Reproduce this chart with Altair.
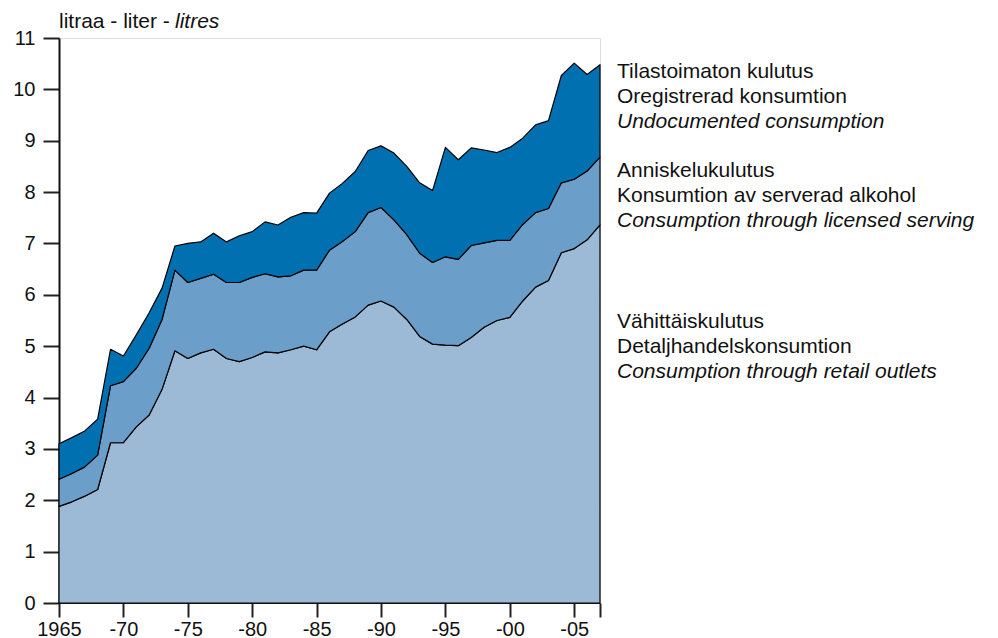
import altair as alt
import pandas as pd

years = list(range(1965, 2008))

# Consumption through retail outlets (litres per capita)
retail = [1.88, 1.97, 2.08, 2.21, 3.12, 3.12, 3.43, 3.66, 4.16, 4.91,
          4.76, 4.87, 4.94, 4.76, 4.70, 4.78, 4.89, 4.87, 4.93, 5.00,
          4.93, 5.28, 5.43, 5.57, 5.80, 5.88, 5.76, 5.52, 5.19, 5.04,
          5.02, 5.01, 5.17, 5.37, 5.50, 5.56, 5.88, 6.15, 6.28, 6.82,
          6.90, 7.07, 7.36]

# Consumption through licensed serving
licensed = [0.53, 0.55, 0.57, 0.67, 1.11, 1.19, 1.14, 1.30, 1.36, 1.57,
            1.48, 1.45, 1.46, 1.48, 1.54, 1.56, 1.52, 1.48, 1.44, 1.48,
            1.55, 1.59, 1.61, 1.66, 1.80, 1.82, 1.70, 1.65, 1.62, 1.59,
            1.72, 1.68, 1.79, 1.64, 1.56, 1.50, 1.49, 1.45, 1.40, 1.36,
            1.35, 1.34, 1.32]

# Undocumented consumption
undocumented = [0.69, 0.70, 0.70, 0.70, 0.71, 0.50, 0.65, 0.69, 0.61, 0.47,
                0.76, 0.71, 0.80, 0.79, 0.91, 0.89, 1.01, 1.01, 1.14, 1.12,
                1.11, 1.11, 1.13, 1.17, 1.21, 1.20, 1.30, 1.33, 1.37, 1.40,
                2.13, 1.94, 1.90, 1.81, 1.71, 1.81, 1.68, 1.71, 1.71, 2.09,
                2.26, 1.88, 1.80]

series_names = ["retail", "licensed", "undocumented"]
series_colors = ["#9cb9d6", "#6b9fca", "#0070b0"]

x_ticks = [1965, 1970, 1975, 1980, 1985, 1990, 1995, 2000, 2005, 2007]
y_ticks = list(range(0, 12))

legend_groups = [
    ["Tilastoimaton kulutus", "Oregistrerad konsumtion", "Undocumented consumption"],
    ["Anniskelukulutus", "Konsumtion av serverad alkohol", "Consumption through licensed serving"],
    ["Vähittäiskulutus", "Detaljhandelskonsumtion", "Consumption through retail outlets"],
]
title_plain = "litraa - liter - "
title_italic = "litres"

rows = []
for i, y in enumerate(years):
    for k, (name, vals) in enumerate(zip(series_names, [retail, licensed, undocumented])):
        rows.append({"year": y, "series": name, "value": vals[i], "ord": k})
df = pd.DataFrame(rows)

FONT = "Liberation Sans"
FS = 20
LFS = 21
W, H = 541, 565

area = alt.Chart(df).mark_area(
    stroke="#000000", strokeWidth=1.2, strokeJoin="round", opacity=1
).encode(
    x=alt.X("year:Q", scale=alt.Scale(domain=[1965, 2007], nice=False, zero=False),
            axis=alt.Axis(values=x_ticks, title=None, grid=False, labelFlush=False,
                          labelExpr="datum.value == 1965 ? '1965' : (datum.value == 2007 ? '' : '-' + substring(toString(datum.value), 2))",
                          tickSize=14, tickWidth=2, tickColor="#222222",
                          labelFontSize=FS, labelFont=FONT, labelColor="#111111",
                          labelPadding=2, domain=True, domainColor="#222222", domainWidth=1)),
    y=alt.Y("value:Q", stack="zero", scale=alt.Scale(domain=[0, 11], nice=False),
            axis=alt.Axis(values=y_ticks, title=None, grid=False, format="d", labelFlush=False,
                          tickSize=16, tickWidth=2, tickColor="#222222",
                          labelFontSize=FS, labelFont=FONT, labelColor="#111111",
                          labelPadding=8, domain=True, domainColor="#111111", domainWidth=2)),
    color=alt.Color("series:N", scale=alt.Scale(domain=series_names, range=series_colors), legend=None),
    order=alt.Order("ord:Q"),
)

layers = [area]

# Title text (plain + italic)
layers.append(alt.Chart(pd.DataFrame({"t": [title_plain]})).mark_text(
    align="left", baseline="alphabetic", font=FONT, fontSize=LFS, color="#111111"
).encode(text="t:N", x=alt.value(0), y=alt.value(-10)))
layers.append(alt.Chart(pd.DataFrame({"t": [title_italic]})).mark_text(
    align="left", baseline="alphabetic", font=FONT, fontSize=LFS, fontStyle="italic",
    color="#111111", dx=116
).encode(text="t:N", x=alt.value(0), y=alt.value(-10)))

group_tops = [34, 133, 284]
for g, lines in enumerate(legend_groups):
    for j, line in enumerate(lines):
        layers.append(alt.Chart(pd.DataFrame({"t": [line]})).mark_text(
            align="left", baseline="middle", font=FONT, fontSize=LFS,
            fontStyle="italic" if j == 2 else "normal", color="#111111"
        ).encode(text="t:N", x=alt.value(558), y=alt.value(group_tops[g] + 25 * j)))

chart = alt.layer(*layers).properties(
    width=W, height=H,
    autosize=alt.AutoSizeParams(type="none"),
    padding={"left": 51, "top": 30, "right": 390, "bottom": 35},
).configure_view(stroke="#333333", strokeWidth=1.5).configure(background="white")

chart.save("out.html", embed_options={"renderer": "svg", "actions": False})
